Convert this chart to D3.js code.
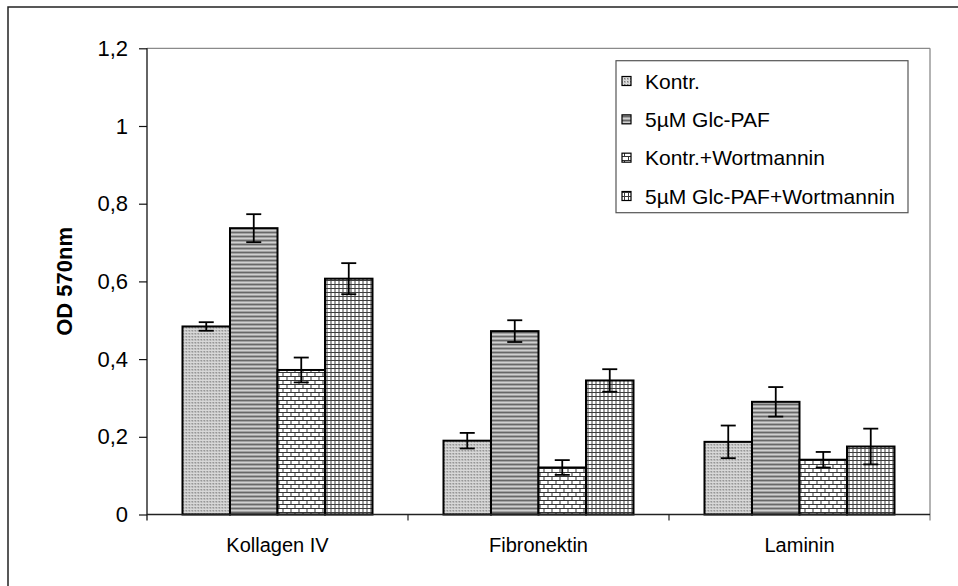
<!DOCTYPE html>
<html>
<head>
<meta charset="utf-8">
<script src="https://cdn.jsdelivr.net/npm/d3@7"></script>
<style>
  html, body { margin: 0; padding: 0; background: #fff; }
  svg { display: block; font-family: Arial, "Liberation Sans", sans-serif; }
</style>
</head>
<body>
<svg id="chart" width="958" height="586"></svg>
<script>
// Adhesion assay: OD 570nm per matrix protein and treatment
const categories = ["Kollagen IV", "Fibronektin", "Laminin"];
const seriesNames = ["Kontr.", "5µM Glc-PAF", "Kontr.+Wortmannin", "5µM Glc-PAF+Wortmannin"];
const kontr       = [0.484, 0.190, 0.187];
const glcPaf      = [0.737, 0.472, 0.290];
const kontrWort   = [0.372, 0.121, 0.141];
const glcPafWort  = [0.607, 0.345, 0.175];
const kontrErr      = [0.011, 0.020, 0.042];
const glcPafErr     = [0.036, 0.028, 0.038];
const kontrWortErr  = [0.032, 0.019, 0.020];
const glcPafWortErr = [0.040, 0.029, 0.046];
const yTicks = [0, 0.2, 0.4, 0.6, 0.8, 1, 1.2];
const yTickLabels = ["0", "0,2", "0,4", "0,6", "0,8", "1", "1,2"];

const seriesValues = [kontr, glcPaf, kontrWort, glcPafWort];
const seriesErrors = [kontrErr, glcPafErr, kontrWortErr, glcPafWortErr];
const patternIds = ["pKontr", "pGlc", "pKontrW", "pGlcW"];

const svg = d3.select("#chart");

// ---- fill patterns ----
const defs = svg.append("defs");
// fine grey dot texture
{
  const p = defs.append("pattern").attr("id", "pKontr").attr("patternUnits", "userSpaceOnUse")
    .attr("width", 3).attr("height", 3);
  p.append("rect").attr("width", 3).attr("height", 3).attr("fill", "#b2b2b2");
  p.append("rect").attr("x", 0).attr("y", 0).attr("width", 1).attr("height", 1).attr("fill", "#7c7c7c");
  p.append("rect").attr("x", 2).attr("y", 0).attr("width", 1).attr("height", 3).attr("fill", "#e2e2e2");
  p.append("rect").attr("x", 0).attr("y", 2).attr("width", 3).attr("height", 1).attr("fill", "#d8d8d8");
}
// horizontal grey stripes
{
  const p = defs.append("pattern").attr("id", "pGlc").attr("patternUnits", "userSpaceOnUse")
    .attr("width", 4).attr("height", 4);
  const rows = ["#686868", "#a2a2a2", "#d0d0d0", "#a2a2a2"];
  rows.forEach((c, i) => p.append("rect").attr("x", 0).attr("y", i).attr("width", 4).attr("height", 1).attr("fill", c));
}
// brick pattern
{
  const p = defs.append("pattern").attr("id", "pKontrW").attr("patternUnits", "userSpaceOnUse")
    .attr("width", 8).attr("height", 8);
  p.append("rect").attr("width", 8).attr("height", 8).attr("fill", "#fff");
  p.append("rect").attr("x", 0).attr("y", 0).attr("width", 8).attr("height", 1).attr("fill", "#333");
  p.append("rect").attr("x", 0).attr("y", 4).attr("width", 8).attr("height", 1).attr("fill", "#333");
  p.append("rect").attr("x", 0).attr("y", 0).attr("width", 1).attr("height", 4).attr("fill", "#333");
  p.append("rect").attr("x", 4).attr("y", 4).attr("width", 1).attr("height", 4).attr("fill", "#333");
}
// square grid
{
  const p = defs.append("pattern").attr("id", "pGlcW").attr("patternUnits", "userSpaceOnUse")
    .attr("width", 4).attr("height", 4);
  p.append("rect").attr("width", 4).attr("height", 4).attr("fill", "#fff");
  p.append("rect").attr("x", 0).attr("y", 0).attr("width", 4).attr("height", 1).attr("fill", "#3c3c3c");
  p.append("rect").attr("x", 0).attr("y", 0).attr("width", 1).attr("height", 4).attr("fill", "#3c3c3c");
}

// ---- outer frame ----
svg.append("rect").attr("x", 8).attr("y", 7).attr("width", 1000).attr("height", 700)
  .attr("fill", "none").attr("stroke", "#222").attr("stroke-width", 1.5);

// ---- scales ----
const plot = { left: 147, right: 930, top: 48.3, bottom: 514.5 };
const y = d3.scaleLinear().domain([0, 1.2]).range([plot.bottom, plot.top]);
const x0 = d3.scaleBand().domain(categories).range([plot.left, plot.right])
  .paddingInner(0.272).paddingOuter(0.136);
const x1 = d3.scaleBand().domain(seriesNames).range([0, x0.bandwidth()]).padding(0);

// plot area frame (top and right edges)
svg.append("line").attr("x1", plot.left).attr("x2", plot.right).attr("y1", plot.top).attr("y2", plot.top)
  .attr("stroke", "#8a8a8a").attr("stroke-width", 1.3);
svg.append("line").attr("x1", plot.right).attr("x2", plot.right).attr("y1", plot.top).attr("y2", plot.bottom + 6)
  .attr("stroke", "#8a8a8a").attr("stroke-width", 1.3);

// ---- bars ----
const groups = svg.append("g").selectAll("g").data(categories).join("g")
  .attr("transform", d => `translate(${x0(d)},0)`);

groups.each(function (cat, ci) {
  const g = d3.select(this);
  seriesNames.forEach((s, si) => {
    const v = seriesValues[si][ci];
    g.append("rect")
      .attr("x", x1(s)).attr("width", x1.bandwidth())
      .attr("y", y(v)).attr("height", y(0) - y(v))
      .attr("fill", `url(#${patternIds[si]})`)
      .attr("stroke", "#000").attr("stroke-width", 2);
  });
});

// ---- error bars ----
groups.each(function (cat, ci) {
  const g = d3.select(this);
  seriesNames.forEach((s, si) => {
    const v = seriesValues[si][ci];
    const e = seriesErrors[si][ci];
    const cx = x1(s) + x1.bandwidth() / 2;
    const eg = g.append("g").attr("stroke", "#000").attr("stroke-width", 1.8);
    eg.append("line").attr("x1", cx).attr("x2", cx).attr("y1", y(v + e)).attr("y2", y(v - e));
    eg.append("line").attr("x1", cx - 7.5).attr("x2", cx + 7.5).attr("y1", y(v + e)).attr("y2", y(v + e));
    eg.append("line").attr("x1", cx - 7.5).attr("x2", cx + 7.5).attr("y1", y(v - e)).attr("y2", y(v - e));
  });
});

// ---- y axis ----
const yAxis = svg.append("g").attr("transform", `translate(${plot.left},0)`)
  .call(d3.axisLeft(y).tickValues(yTicks).tickFormat((d, i) => yTickLabels[i]).tickSize(8).tickPadding(11));
yAxis.select(".domain").attr("stroke", "#111").attr("stroke-width", 1.3)
  .attr("d", `M0,${plot.top}V${plot.bottom + 6}`);
yAxis.selectAll(".tick line").attr("stroke", "#111").attr("stroke-width", 1.2);
yAxis.selectAll(".tick text").attr("font-size", 22).attr("fill", "#000")
  .attr("font-family", "Arial, 'Liberation Sans', sans-serif");

// ---- x axis ----
const step = x0.step();
const boundaries = d3.range(categories.length + 1).map(i => plot.left + i * step);
svg.append("line").attr("x1", plot.left).attr("x2", plot.right).attr("y1", plot.bottom).attr("y2", plot.bottom)
  .attr("stroke", "#222").attr("stroke-width", 1.3);
svg.append("g").selectAll("line").data(boundaries.slice(1, -1)).join("line")
  .attr("x1", d => d).attr("x2", d => d).attr("y1", plot.bottom).attr("y2", plot.bottom + 6)
  .attr("stroke", "#222").attr("stroke-width", 1.2);
svg.append("g").selectAll("text").data(categories).join("text")
  .attr("x", d => x0(d) + x0.bandwidth() / 2).attr("y", 552)
  .attr("text-anchor", "middle").attr("font-size", 20).attr("fill", "#000")
  .text(d => d);

// y axis title
svg.append("text")
  .attr("transform", `translate(72,${(plot.top + plot.bottom) / 2}) rotate(-90)`)
  .attr("text-anchor", "middle").attr("font-size", 22).attr("font-weight", "bold").attr("fill", "#000")
  .text("OD 570nm");

// ---- legend ----
const legend = svg.append("g");
legend.append("rect").attr("x", 616).attr("y", 60.7).attr("width", 292).attr("height", 152)
  .attr("fill", "#fff").attr("stroke", "#555").attr("stroke-width", 1.2);
const rowY = d3.scalePoint().domain(seriesNames).range([81, 196]);
seriesNames.forEach((s, si) => {
  const cy = rowY(s);
  legend.append("rect").attr("x", 622).attr("y", cy - 4.5).attr("width", 9).attr("height", 9)
    .attr("fill", `url(#${patternIds[si]})`).attr("stroke", "#000").attr("stroke-width", 1.2);
  legend.append("text").attr("x", 645).attr("y", cy).attr("dy", "0.36em")
    .attr("font-size", 21).attr("fill", "#000").text(s);
});
</script>
</body>
</html>
